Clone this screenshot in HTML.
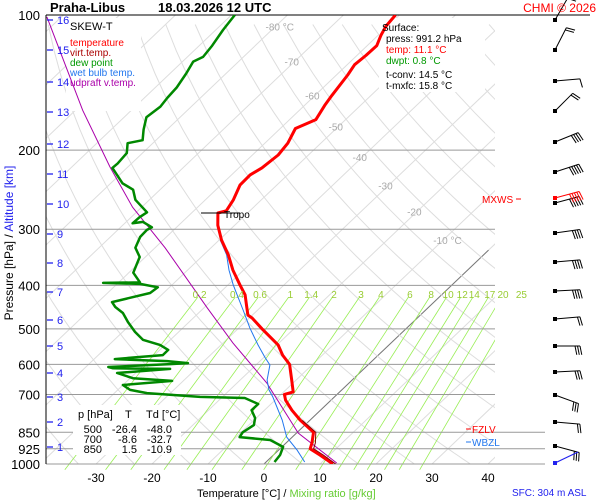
<!DOCTYPE html>
<html><head><meta charset="utf-8"><style>
html,body{margin:0;padding:0;background:#fff;}
svg{display:block;font-family:"Liberation Sans",Arial,sans-serif;}
</style></head><body>
<svg id="chart" width="600" height="500" viewBox="0 0 600 500" xmlns="http://www.w3.org/2000/svg">
<defs><clipPath id="plotclip"><rect x="46" y="15" width="449" height="449"/></clipPath>
<clipPath id="lowclip"><rect x="46" y="15" width="449" height="460"/></clipPath></defs>
<rect x="0" y="0" width="600" height="500" fill="#fff"/>
<g id="bg" clip-path="url(#plotclip)"></g>
<g id="mix" clip-path="url(#lowclip)"></g>
<g id="grid"></g>
<g id="boxes">
<rect x="66" y="18" width="75" height="93" fill="#fff"/>
<rect x="379" y="18" width="106" height="74" fill="#fff"/>
<rect x="73" y="405" width="108" height="50" fill="#fff"/>
</g>
<g id="series" clip-path="url(#plotclip)"></g>
<g id="labels"></g>
<g id="barbs"></g>
<text x="50" y="12" font-size="13" font-weight="bold">Praha-Libus</text>
<text x="158" y="12" font-size="13" font-weight="bold">18.03.2026 12 UTC</text>
<text x="596" y="12" font-size="12" fill="#f00" text-anchor="end">CHMI © 2026</text>
<text x="70" y="30" font-size="11">SKEW-T</text>
<text x="70" y="46" font-size="10" fill="#f00">temperature</text>
<text x="70" y="56" font-size="10" fill="#a00">virt.temp.</text>
<text x="70" y="66" font-size="10" fill="#090">dew point</text>
<text x="70" y="76" font-size="10" fill="#27e">wet bulb temp.</text>
<text x="70" y="86" font-size="10" fill="#a0a">udpraft v.temp.</text>
<g font-size="10">
<text x="382" y="31">Surface:</text>
<text x="386" y="42">press: 991.2 hPa</text>
<text x="386" y="53" fill="#f00">temp: 11.1 °C</text>
<text x="386" y="64" fill="#090">dwpt: 0.8 °C</text>
<text x="386" y="78">t-conv: 14.5 °C</text>
<text x="386" y="89">t-mxfc: 15.8 °C</text>
</g>
<g font-size="11">
<text x="78" y="418">p [hPa]</text><text x="125" y="418">T</text><text x="146" y="418">Td [°C]</text>
<text x="102" y="433" text-anchor="end">500</text><text x="137" y="433" text-anchor="end">-26.4</text><text x="172" y="433" text-anchor="end">-48.0</text>
<text x="102" y="443" text-anchor="end">700</text><text x="137" y="443" text-anchor="end">-8.6</text><text x="172" y="443" text-anchor="end">-32.7</text>
<text x="102" y="453" text-anchor="end">850</text><text x="137" y="453" text-anchor="end">1.5</text><text x="172" y="453" text-anchor="end">-10.9</text>
</g>
<g>
<line x1="201" y1="213" x2="240" y2="213" stroke="#000" stroke-width="1"/>
<text x="224" y="218" font-size="10">Tropo</text></g>
<g><line x1="466" y1="429" x2="471" y2="429" stroke="#f00"/><text x="472" y="433" font-size="10" fill="#f00">FZLV</text></g>
<g><line x1="466" y1="442" x2="471" y2="442" stroke="#27e"/><text x="472" y="446" font-size="10" fill="#27e">WBZL</text></g>
<g><text x="482" y="203" font-size="10" fill="#f00">MXWS</text><line x1="516" y1="199" x2="521" y2="199" stroke="#f00"/></g>
<text x="197" y="497" font-size="11">Temperature [°C]  /  <tspan fill="#6c3">Mixing ratio [g/kg]</tspan></text>
<text x="512" y="496" font-size="10" fill="#22e">SFC: 304 m ASL</text>
<text transform="translate(13,243) rotate(-90)" font-size="12" text-anchor="middle">Pressure [hPa]  /  <tspan fill="#22e">Altitude [km]</tspan></text>
</svg>
<script>
// ---- data ----
const tempP=[1000,955,925,897,850,798,759,721,700,691,650,600,572,543,500,473,466,443,420,399,370,342,317,294,276,273,258,239,227,219,205,193,179,171,159,151,136,129,123,117,111,106,100];
const tempT=[12.3,8.3,5.4,4.6,2.9,-1.8,-5.1,-8.1,-9.4,-8.3,-10.8,-14.1,-17.1,-19.8,-25.7,-29.5,-30.8,-32.9,-35.1,-37.9,-41.9,-45.6,-49.6,-53.0,-55.3,-54.2,-55,-56.6,-56.7,-55.9,-55.4,-55.9,-57.3,-55.3,-56.4,-57,-58,-58.7,-58.4,-58.3,-59.5,-60.3,-60.7];
const dewP=[990,955,916,884,871,850,819,790,759,735,713,709,695,684,667,653,644,627,614,612,608,599,596,590,584,578,572,557,543,529,508,483,461,447,436,416,404,397,395,394,375,346,330,312,301,297,289,291,282,275,258,245,237,219,214,203,193,190,180,169,160,153,145,135,127,124,117,108,100];
const dewT=[1.5,1.2,0.2,-3.4,-9.4,-9.75,-9.1,-10.2,-12.3,-12.3,-15.8,-24.0,-34.2,-37.8,-40.0,-32.0,-39.5,-43.3,-34.6,-44.9,-46.0,-35.5,-32.5,-36.6,-46.3,-42.6,-38.5,-38.5,-40.9,-44.9,-47.8,-50.9,-53.5,-56.0,-57.5,-52.4,-52.1,-55.9,-62.7,-56.2,-59.2,-61.0,-63.5,-64.7,-64.8,-64.4,-67.0,-68.6,-68.5,-68.1,-72.5,-74.8,-77.9,-82.6,-82.5,-82.8,-84.5,-82.4,-84.2,-86.0,-85.5,-85.9,-86.2,-87.1,-88.1,-87.2,-87.7,-88.7,-89.4];
const wbP=[990,931,871,798,709,684,650,602,578,543,498,454,399,370,342,317];
const wbT=[6.9,3.3,-1.0,-5.0,-11.0,-13.0,-15.2,-17.5,-19.9,-23.4,-28.0,-32.6,-39.1,-42.6,-45.9,-49.8];
const virtP=[1000,955,925,897,850,800];
const virtT=[12.8,8.9,6.0,5.2,3.3,-1.3];
const parcelP=[995,853,660,538,449,330,268,218,163,101];
const parcelT=[12.8,0.3,-14.7,-28.2,-39.4,-58.2,-71.6,-83.2,-98.7,-122.6];
const pressureLevels=[100,200,300,400,500,600,700,850,925,1000];
const tempTicks=[-30,-20,-10,0,10,20,30,40];
const altKm=[1,2,3,4,5,6,7,8,9,10,11,12,13,14,15,16];
const altY=[447,422,397,373,346,320,292,263,234,204,174,144,112,82,50,20];
const mixRatios=[0.2,0.4,0.6,1,1.4,2,3,4,6,8,10,12,14,17,20,25];
const isoLabels=[-80,-70,-60,-50,-40,-30,-20,-10];
const isoLabelP=[106,127,151,177,207,240,274,317];
const barbY=[20,50,81,111,142,172,203,233,262,291,319,346,372,395,422,446];
const barbAng=[-60,-63,-5,-45,-22,-18,-15,-8,-5,-3,-5,0,-3,20,5,15];
const barbFeathers=[1,2,1,2,4,5,5,4,4,4,2,3,3,3,2,3];

// ---- axes ----
const NS="http://www.w3.org/2000/svg";
function yP(p){return 15+449*Math.log10(p/100);}
function xT(T,p){return 264+5.6*T+1.05*(464-yP(p));}
function mk(tag,attrs,parent){const e=document.createElementNS(NS,tag);for(const k in attrs)e.setAttribute(k,attrs[k]);parent.appendChild(e);return e;}
const bg=document.getElementById('bg'),grid=document.getElementById('grid'),ser=document.getElementById('series'),lab=document.getElementById('labels'),mixg=document.getElementById('mix'),barbs=document.getElementById('barbs');

for(let T=-160;T<=50;T+=10){
  const l=mk('line',{x1:xT(T,1050),y1:yP(1050),x2:xT(T,100),y2:yP(100),stroke:'#ddd','stroke-width':1},bg);
  
  
}
const z=mk('line',{x1:xT(0,1000),y1:yP(1000),x2:xT(0,334),y2:yP(334),stroke:'#777','stroke-width':1},bg);


for(let th=230;th<=520;th+=10){
  let d='';
  for(let p=1050;p>=95;p-=15){const T=th*Math.pow(p/1000,0.286)-273.15;d+=(d?'L':'M')+xT(T,p).toFixed(1)+','+yP(p).toFixed(1);}
  const a=mk('path',{d:d,fill:'none',stroke:'#ddd','stroke-width':1},bg);
  
  
}
function tdFromW(w,p){const e=w*p/(622+w);const l=Math.log(e/6.112);return 243.5*l/(17.67-l);}
mixRatios.forEach(function(w){
  const l=mk('line',{x1:xT(tdFromW(w,1030),1030),y1:yP(1030),x2:xT(tdFromW(w,425),425),y2:yP(425),stroke:'#9e5','stroke-width':0.8},mixg);
  
  
  const t=mk('text',{x:xT(tdFromW(w,420),420),y:298,'font-size':10,fill:'#9c3','text-anchor':'middle'},lab);
  t.textContent=String(w);
  
  
});
isoLabels.forEach(function(T,i){
  const t=mk('text',{x:xT(T,isoLabelP[i])-10,y:yP(isoLabelP[i])+4,'font-size':10,fill:'#aaa'},lab);
  t.textContent=(T===-80||T===-10)?T+' °C':String(T);
  
  
});
pressureLevels.forEach(function(p){
  const ext=(p>=850)?545:(p===100?590:495);
  const l=mk('line',{x1:46,y1:yP(p),x2:ext,y2:yP(p),stroke:p===100?'#000':'#999','stroke-width':1},grid);
  
  
  const t=mk('text',{x:40,y:yP(p)+5,'font-size':13,'text-anchor':'end'},lab);
  t.textContent=String(p);
  
  
});
const ax=mk('line',{x1:46,y1:15,x2:46,y2:464,stroke:'#000','stroke-width':1},grid);


tempTicks.forEach(function(T){
  const t=mk('text',{x:xT(T,1000),y:482,'font-size':12,'text-anchor':'middle'},lab);
  t.textContent=String(T);
  
  
});
altKm.forEach(function(k,i){
  const l=mk('line',{x1:47,y1:altY[i],x2:53,y2:altY[i],stroke:'#22e','stroke-width':1.3},lab);
  
  
  const t=mk('text',{x:57,y:altY[i]+4,'font-size':11,fill:'#22e'},lab);
  t.textContent=String(k);
  
  
});

function path(P,T){return P.map(function(p,i){return (i?'L':'M')+xT(T[i],p).toFixed(1)+','+yP(p).toFixed(1);}).join('');}
const pp=mk('path',{d:path(parcelP,parcelT),fill:'none',stroke:'#a0a','stroke-width':1},ser);


const wb=mk('path',{d:path(wbP,wbT),fill:'none',stroke:'#27e','stroke-width':1},ser);


const dp=mk('path',{d:path(dewP,dewT),fill:'none',stroke:'#080','stroke-width':2.5,'stroke-linejoin':'round'},ser);


const tp=mk('path',{d:path(tempP,tempT),fill:'none',stroke:'#f00','stroke-width':3,'stroke-linejoin':'round'},ser);


const vp=mk('path',{d:path(virtP,virtT),fill:'none',stroke:'#800','stroke-width':1},ser);



function barb(y,ang,n,col,name){
  const g=mk('g',{},barbs);
  
  
  const a=ang*Math.PI/180,L=25;
  const ex=555+L*Math.cos(a),ey=y+L*Math.sin(a);
  mk('rect',{x:553,y:y-2,width:4,height:4,fill:col},g);
  mk('line',{x1:555,y1:y,x2:ex,y2:ey,stroke:col,'stroke-width':1},g);
  const pa=a+Math.PI/2-0.2;
  for(let i=0;i<n;i++){
    const bx=555+(L-i*2.5)*Math.cos(a),by=y+(L-i*2.5)*Math.sin(a);
    mk('line',{x1:bx,y1:by,x2:bx+9*Math.cos(pa),y2:by+9*Math.sin(pa),stroke:col,'stroke-width':1},g);
  }
}
barbY.forEach(function(y,i){barb(y,barbAng[i],barbFeathers[i],'#000','wind-barb');});
barb(198,-15,5,'#f00','wind-barb-max');
const sb=mk('line',{x1:555,y1:463,x2:578,y2:452,stroke:'#22e','stroke-width':1.2},barbs);


const sd=mk('rect',{x:553,y:461,width:4,height:4,fill:'#22e'},barbs);


</script>
</body></html>
